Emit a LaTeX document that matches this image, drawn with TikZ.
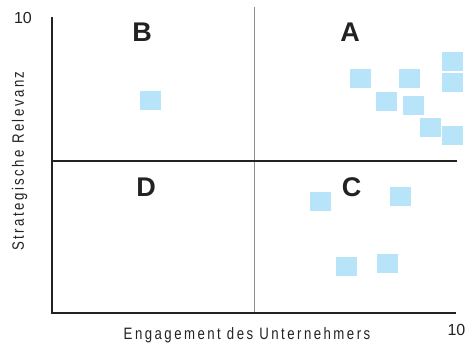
\documentclass[tikz,border=0pt]{standalone}
\usepackage{fontspec}
\setmainfont{Liberation Sans}
\newfontfamily\axisfont[FakeStretch=0.8,LetterSpace=15]{Liberation Sans}
\usetikzlibrary{positioning}
\definecolor{sqblue}{HTML}{B8E4F9}
\definecolor{dark}{HTML}{222222}
\definecolor{midgray}{HTML}{8E8E8E}
\tikzset{
  quad/.style={font=\fontsize{27}{27}\selectfont\bfseries, text=dark, inner sep=0pt},
  firm/.style={fill=sqblue, minimum width=21pt, minimum height=19pt, inner sep=0pt},
  axislabel/.style={font=\axisfont\fontsize{16.5}{16.5}\selectfont, text=dark, inner sep=0pt},
  scalelabel/.style={font=\fontsize{16}{16}\selectfont, text=dark, inner sep=0pt},
  axisline/.style={draw=dark, line width=2pt},
  divider/.style={draw=dark, line width=1.2pt}
}

\begin{document}
\begin{tikzpicture}[x=1pt, y=-1pt]
  \useasboundingbox (0,0) rectangle (467,345);
  % axes and quadrant dividers
  \coordinate (origin) at (52,313);
  \coordinate (ytop) at (52,17);
  \coordinate (xend) at (456,313);
  \coordinate (midleft) at (52,161);
  \coordinate (midright) at (457,161);
  \coordinate (midtop) at (254.7,7);
  \coordinate (midbottom) at (254.7,313);
  \draw[draw=midgray, line width=1.3pt] (midtop) -- (midbottom);
  \draw[divider] (midleft) -- (midright);
  \draw[axisline] (ytop) -- (origin) -- (xend);
  % quadrant letters
  \node[quad] (qA) at (350,32) {A};
  \node[quad] (qB) at (142,32.5) {B};
  \node[quad] (qC) at (351.5,187) {C};
  \node[quad] (qD) at (146,187) {D};
  % scale ends and axis titles
  \node[scalelabel] (ymax) at (23,18) {10};
  \node[scalelabel] (xmax) at (456.5,330) {10};
  \node[axislabel] (xtitle) at (247,335) {Engagement des Unternehmers};
  \node[axislabel, rotate=90] (ytitle) at (19.5,161) {Strategische Relevanz};
  % firms
  \foreach \name/\px/\py in {f1/350/69, f2/399/69, f3/442/52, f4/442/73,
      f5/376/92, f6/403/96, f7/420/118, f8/442/126, f9/310/192,
      f10/390/187, f11/336/257, f12/377/254, f13/140/91}
    \node[firm] (\name) at (\px+10.5,\py+9.5) {};
\end{tikzpicture}
\end{document}
